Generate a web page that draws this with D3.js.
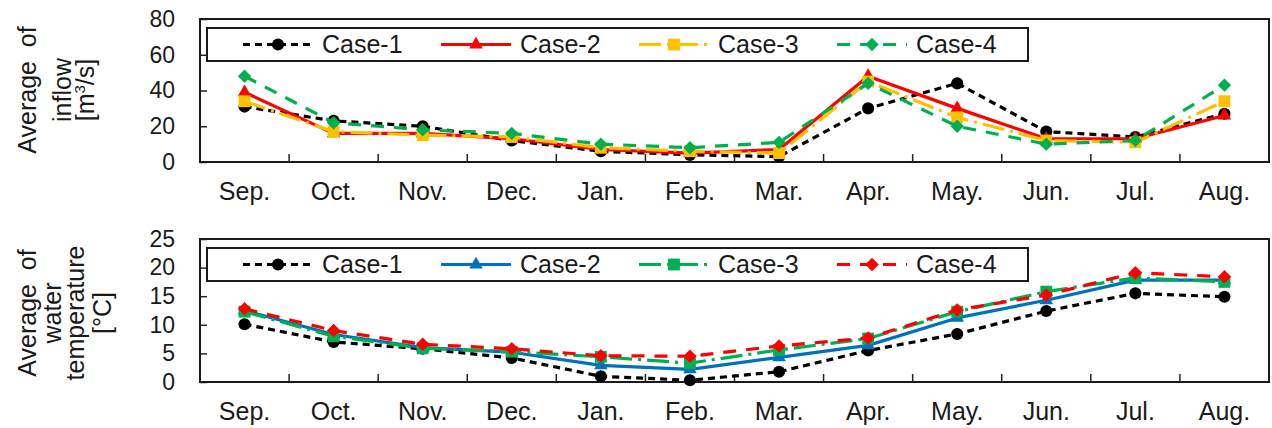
<!DOCTYPE html>
<html>
<head>
<meta charset="utf-8">
<script src="https://cdn.jsdelivr.net/npm/d3@7"></script>
<style>
  html, body { margin: 0; padding: 0; background: #fff; }
  svg { display: block; font-family: "Liberation Sans", Arial, sans-serif; }
</style>
</head>
<body>
<svg id="chart" width="1272" height="428"></svg>
<script>
const months = ["Sep.","Oct.","Nov.","Dec.","Jan.","Feb.","Mar.","Apr.","May.","Jun.","Jul.","Aug."];
const caseNames = ["Case-1","Case-2","Case-3","Case-4"];

const inflowCase1 = [31, 23, 20, 12, 6, 4, 3, 30, 44, 17, 14, 27];
const inflowCase2 = [39, 16, 16, 13, 7, 5, 7, 48, 30, 13, 13, 26];
const inflowCase3 = [34, 17, 15, 14, 8, 6, 5, 45, 25, 12, 11, 34];
const inflowCase4 = [48, 22, 18, 16, 10, 8, 11, 44, 20, 10, 12, 43];

const tempCase1 = [10.1, 7.0, 5.8, 4.2, 1.0, 0.3, 1.8, 5.5, 8.4, 12.4, 15.5, 14.9];
const tempCase2 = [12.5, 8.3, 6.0, 5.2, 2.9, 2.2, 4.3, 6.4, 11.2, 14.3, 17.8, 17.8];
const tempCase3 = [12.3, 8.0, 5.9, 5.3, 4.4, 3.3, 5.6, 7.6, 12.3, 15.8, 18.2, 17.5];
const tempCase4 = [12.8, 9.0, 6.6, 5.8, 4.6, 4.5, 6.3, 7.7, 12.6, 15.2, 19.1, 18.4];

const inflowTicks = [0, 20, 40, 60, 80];
const tempTicks = [0, 5, 10, 15, 20, 25];

const svg = d3.select("#chart");
const textColor = "#1a1a1a";

const x = d3.scaleBand().domain(months).range([200, 1269]).paddingInner(0).paddingOuter(0);
const cx = m => x(m) + x.bandwidth() / 2;

const styles = {
  dash:     "7,5",
  solid:    null,
  dashdot:  "22,6,3,6",
  longdash: "13,10"
};

const markers = {
  circle:   () => d3.symbol().type(d3.symbolCircle).size(115)(),
  triangle: () => d3.symbol().type(d3.symbolTriangle).size(80)(),
  square:   () => d3.symbol().type(d3.symbolSquare).size(140)(),
  diamond:  () => d3.symbol().type(d3.symbolSquare).size(90)()
};

function panel(opts) {
  const g = svg.append("g");
  const y = d3.scaleLinear().domain(opts.domain).range([opts.bottom, opts.top]);

  // Axis title (multi-line, rotated)
  opts.title.forEach(t => {
    const tt = g.append("text")
      .attr("transform", `translate(${t.x},${opts.titleCenter}) rotate(-90)`)
      .attr("text-anchor", "middle")
      .attr("font-size", 25)
      .attr("fill", textColor);
    if (t.sup) {
      tt.append("tspan").text(t.text[0]);
      tt.append("tspan").text(t.sup).attr("font-size", 15).attr("dy", -9);
      tt.append("tspan").text(t.text[1]).attr("dy", 9);
    } else {
      tt.text(t.text);
    }
  });

  // Y axis
  const ya = g.append("g")
    .attr("transform", "translate(200,0)")
    .call(d3.axisLeft(y).tickValues(opts.ticks).tickSize(-7).tickPadding(25).tickFormat(d3.format("d")));
  ya.select(".domain").remove();
  ya.selectAll(".tick line").attr("stroke", "#222").attr("stroke-width", 1.5);
  ya.selectAll(".tick text").attr("font-size", 23).attr("fill", textColor)
    .attr("font-family", "'Liberation Sans', Arial, sans-serif");

  // X axis labels
  const xa = g.append("g")
    .attr("transform", `translate(0,${opts.bottom})`)
    .call(d3.axisBottom(x).tickSize(0).tickPadding(0));
  xa.select(".domain").remove();
  xa.selectAll(".tick text").attr("font-size", 25).attr("fill", textColor)
    .attr("dy", null).attr("y", 38)
    .attr("font-family", "'Liberation Sans', Arial, sans-serif");

  // X boundary ticks (inward)
  g.append("g").selectAll("line")
    .data(months.slice(1))
    .join("line")
    .attr("x1", d => x(d)).attr("x2", d => x(d))
    .attr("y1", opts.bottom).attr("y2", opts.bottom - 8)
    .attr("stroke", "#222").attr("stroke-width", 1.5);

  // Plot frame
  g.append("rect")
    .attr("x", 200).attr("y", opts.top)
    .attr("width", 1269 - 200).attr("height", opts.bottom - opts.top)
    .attr("fill", "none").attr("stroke", "#1a1a1a").attr("stroke-width", 2);

  // Legend box
  const lg = g.append("g");
  lg.append("rect")
    .attr("x", 207).attr("y", opts.top + 9)
    .attr("width", 1028 - 207).attr("height", 33)
    .attr("fill", "#fff").attr("stroke", "#1a1a1a").attr("stroke-width", 2);

  const ly = opts.top + 25.5;
  opts.series.forEach((s, i) => {
    const x0 = 243 + i * 198;
    lg.append("line")
      .attr("x1", x0).attr("x2", x0 + 70).attr("y1", ly).attr("y2", ly)
      .attr("stroke", s.color).attr("stroke-width", 3.2)
      .attr("stroke-dasharray", styles[s.style]);
    lg.append("path")
      .attr("d", markers[s.marker]())
      .attr("transform", `translate(${x0 + 35},${ly})` + (s.marker === "diamond" ? " rotate(45)" : ""))
      .attr("fill", s.color);
    lg.append("text")
      .attr("x", x0 + 79).attr("y", ly + 8.5)
      .attr("font-size", 25).attr("fill", textColor)
      .text(caseNames[i]);
  });

  // Series
  const line = d3.line().x((d, i) => cx(months[i])).y(d => y(d));
  opts.series.forEach(s => {
    g.append("path")
      .datum(s.values)
      .attr("d", line)
      .attr("fill", "none")
      .attr("stroke", s.color)
      .attr("stroke-width", 3.2)
      .attr("stroke-linejoin", "round")
      .attr("stroke-dasharray", styles[s.style]);
    g.append("g").selectAll("path")
      .data(s.values)
      .join("path")
      .attr("d", markers[s.marker]())
      .attr("transform", (d, i) => `translate(${cx(months[i])},${y(d)})` + (s.marker === "diamond" ? " rotate(45)" : ""))
      .attr("fill", s.color);
  });
}

panel({
  domain: [0, 80], top: 19, bottom: 162, ticks: inflowTicks, titleCenter: 90,
  title: [
    { x: 36, text: "Average\u00a0\u00a0of" },
    { x: 71, text: "inflow" },
    { x: 94, text: ["[m", "/s]"], sup: "3" }
  ],
  series: [
    { values: inflowCase1, color: "#000000", style: "dash", marker: "circle" },
    { values: inflowCase2, color: "#ff0000", style: "solid", marker: "triangle" },
    { values: inflowCase3, color: "#ffc000", style: "dashdot", marker: "square" },
    { values: inflowCase4, color: "#00b050", style: "longdash", marker: "diamond" }
  ]
});

panel({
  domain: [0, 25], top: 239, bottom: 382, ticks: tempTicks, titleCenter: 313,
  title: [
    { x: 36, text: "Average\u00a0\u00a0of" },
    { x: 61, text: "water" },
    { x: 84, text: "temperature" },
    { x: 111, text: "[°C]" }
  ],
  series: [
    { values: tempCase1, color: "#000000", style: "dash", marker: "circle" },
    { values: tempCase2, color: "#0070c0", style: "solid", marker: "triangle" },
    { values: tempCase3, color: "#00b050", style: "dashdot", marker: "square" },
    { values: tempCase4, color: "#ff0000", style: "longdash", marker: "diamond" }
  ]
});
</script>
</body>
</html>
